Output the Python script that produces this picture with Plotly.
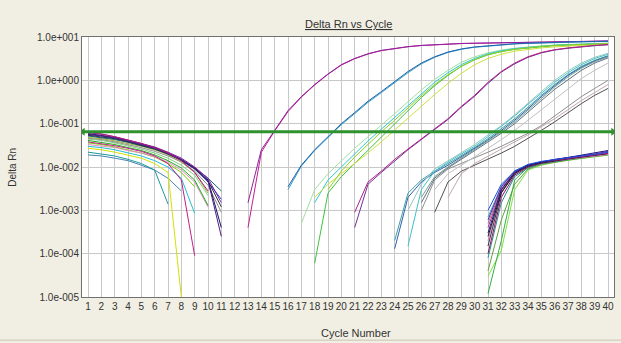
import plotly.graph_objects as go

# ---------------- data ----------------
cycle_ticks = list(range(1, 41))
y_tickvals = [1e-5, 1e-4, 1e-3, 1e-2, 1e-1, 1e0, 1e1]
y_ticktext = ["1.0e-005", "1.0e-004", "1.0e-003", "1.0e-002", "1.0e-001", "1.0e+000", "1.0e+001"]
threshold = 0.065

# baseline (non-amplifying) wells, start at cycle 1
base_purple = [0.062, 0.057, 0.050, 0.042, 0.035, 0.029, 0.022, 0.016, 0.010, 0.0055, 0.0015]
base_navy = [0.059, 0.054, 0.048, 0.041, 0.034, 0.028, 0.021, 0.015, 0.0095, 0.005, 0.0004]
base_blue = [0.056, 0.052, 0.046, 0.039, 0.033, 0.027, 0.020, 0.014, 0.009, 0.0045, 0.0018]
base_magenta = [0.063, 0.058, 0.050, 0.042, 0.035, 0.028, 0.021, 0.014, 0.0075, 0.0028]
base_darkteal = [0.052, 0.048, 0.043, 0.037, 0.031, 0.026, 0.020, 0.0145, 0.0095, 0.0055, 0.0028]
base_grey = [0.046, 0.043, 0.038, 0.033, 0.028, 0.023, 0.018, 0.013, 0.008, 0.0038, 0.0009]
base_green = [0.041, 0.037, 0.033, 0.028, 0.024, 0.019, 0.014, 0.0095, 0.005, 0.0013]
base_lime = [0.036, 0.033, 0.029, 0.025, 0.021, 0.017, 0.012, 0.0075, 0.0035]
base_cyan = [0.030, 0.028, 0.025, 0.021, 0.018, 0.014, 0.010, 0.0055, 0.00085]
base_teal = [0.022, 0.020, 0.018, 0.015, 0.012, 0.0085, 0.0014]
base_steel = [0.019, 0.018, 0.016, 0.014, 0.011, 0.0085, 0.0055, 0.0028]
base_yellow = [0.027, 0.025, 0.022, 0.019, 0.016, 0.012, 0.0075, 0.00001]
base_magenta2 = [0.038, 0.035, 0.031, 0.027, 0.023, 0.018, 0.012, 0.005, 0.00009]
base_olive = [0.048, 0.045, 0.040, 0.035, 0.030, 0.025, 0.019, 0.013, 0.0075, 0.0025]
base_pink = [0.033, 0.031, 0.028, 0.024, 0.021, 0.017, 0.013, 0.0085, 0.0045, 0.0012]
base_darkpurple = [0.057, 0.053, 0.047, 0.040, 0.034, 0.028, 0.021, 0.015, 0.0095, 0.0048, 0.00025]
base_black = [0.054, 0.050, 0.045, 0.038, 0.032, 0.026, 0.020, 0.0145, 0.009, 0.0048, 0.0012]
base_lightgreen = [0.044, 0.041, 0.036, 0.031, 0.026, 0.021, 0.016, 0.011, 0.0065, 0.0022]

# earliest amplification (start cycle 13)
early_a = [0.0015, 0.025, 0.07, 0.2, 0.42, 0.8, 1.4, 2.3, 3.2, 4.1, 4.9, 5.5, 6.0, 6.4,
           6.7, 6.9, 7.1, 7.2, 7.3, 7.4, 7.5, 7.6, 7.7, 7.8, 7.9, 8.0, 8.0, 8.1]
early_b = [0.0004, 0.022, 0.068, 0.19, 0.41, 0.78, 1.38, 2.25, 3.15, 4.05, 4.85, 5.45, 5.95, 6.35,
           6.65, 6.85, 7.05, 7.15, 7.25, 7.35, 7.45, 7.55, 7.65, 7.75, 7.85, 7.95, 8.0, 8.05]

# second group (start cycle 16)
mid_blue = [0.0035, 0.011, 0.025, 0.05, 0.1, 0.18, 0.33, 0.55, 0.95, 1.6, 2.5, 3.5, 4.5, 5.3,
            5.9, 6.3, 6.7, 7.0, 7.2, 7.4, 7.6, 7.7, 7.8, 7.9, 8.0]
mid_teal = [0.003, 0.0105, 0.024, 0.048, 0.095, 0.17, 0.31, 0.52, 0.9, 1.5, 2.4, 3.4, 4.4, 5.2,
            5.8, 6.2, 6.6, 6.9, 7.1, 7.3, 7.5, 7.6, 7.7, 7.8, 7.9]

# third group
third_green = [6e-5, 0.0025, 0.006, 0.012, 0.025, 0.05, 0.1, 0.2, 0.4, 0.75, 1.3, 2.1, 3.0, 3.9,
               4.6, 5.2, 5.6, 6.0, 6.3, 6.5, 6.7, 6.9, 7.0]                     # from 18
third_lightgreen = [0.0005, 0.003, 0.007, 0.014, 0.027, 0.05, 0.09, 0.17, 0.32, 0.6, 1.05, 1.7,
                    2.6, 3.5, 4.3, 5.0, 5.5, 5.9, 6.2, 6.5, 6.7, 6.9, 7.0, 7.1]   # from 17
third_cyan = [0.0015, 0.005, 0.01, 0.02, 0.04, 0.075, 0.14, 0.27, 0.5, 0.9, 1.5, 2.3, 3.2, 4.1,
              4.8, 5.4, 5.8, 6.2, 6.5, 6.7, 6.9, 7.0, 7.2]                        # from 18
third_yellow = [0.002, 0.004, 0.007, 0.012, 0.021, 0.038, 0.07, 0.13, 0.25, 0.47, 0.85, 1.45,
                2.3, 3.2, 4.0, 4.7, 5.2, 5.6, 5.9, 6.2, 6.4, 6.6, 6.8]            # from 18
third_yellowgreen = [0.003, 0.008, 0.017, 0.034, 0.065, 0.12, 0.23, 0.44, 0.8, 1.35, 2.1, 3.0,
                     3.9, 4.6, 5.2, 5.7, 6.1, 6.4, 6.6, 6.8, 7.0, 7.1]            # from 19

# fourth group (start cycle 21)
fourth_magenta = [0.0009, 0.0045, 0.008, 0.015, 0.026, 0.045, 0.075, 0.13, 0.25, 0.45, 0.9,
                  1.6, 2.5, 3.5, 4.4, 5.1, 5.6, 6.1, 6.4, 6.7]
fourth_purple = [0.0004, 0.004, 0.0075, 0.014, 0.025, 0.043, 0.072, 0.125, 0.24, 0.43, 0.85,
                 1.55, 2.4, 3.4, 4.3, 5.0, 5.5, 6.0, 6.3, 6.6]

# late bundle
late_teal = [0.0002, 0.0025, 0.005, 0.008, 0.012, 0.018, 0.028, 0.045, 0.075, 0.13, 0.24,
             0.45, 0.8, 1.35, 2.1, 2.9, 3.7]                                     # from 24
late_blue = [0.00013, 0.002, 0.0045, 0.0075, 0.011, 0.017, 0.026, 0.042, 0.07, 0.12, 0.22,
             0.42, 0.75, 1.3, 2.0, 2.8, 3.6]                                     # from 24
late_cyan = [0.00015, 0.003, 0.008, 0.013, 0.02, 0.03, 0.05, 0.085, 0.15, 0.28, 0.5, 0.9,
             1.5, 2.3, 3.2, 4.0]                                                 # from 25
late_lightteal = [0.001, 0.004, 0.009, 0.014, 0.021, 0.033, 0.055, 0.09, 0.16, 0.3, 0.55, 1.0,
                  1.65, 2.5, 3.4, 4.2]                                           # from 25
late_greygreen = [0.002, 0.006, 0.01, 0.016, 0.025, 0.04, 0.065, 0.11, 0.2, 0.38, 0.7, 1.2,
                  1.9, 2.7, 3.5]                                                 # from 26
late_slate = [0.0015, 0.0055, 0.0095, 0.015, 0.023, 0.037, 0.06, 0.1, 0.18, 0.34, 0.62, 1.05,
              1.7, 2.5, 3.3]                                                     # from 26

# slowest wells
slow_grey = [0.001, 0.005, 0.009, 0.012, 0.016, 0.022, 0.03, 0.042, 0.06, 0.09, 0.15, 0.25,
             0.42, 0.65, 1.0]                                                    # from 26
slow_darkgrey = [0.0009, 0.0045, 0.008, 0.011, 0.015, 0.021, 0.03, 0.045, 0.07, 0.11, 0.18,
                 0.29, 0.45, 0.65]                                               # from 27
slow_lightgrey = [0.003, 0.007, 0.011, 0.017, 0.027, 0.043, 0.07, 0.12, 0.21, 0.37, 0.65,
                  1.1, 1.7, 2.5]                                                 # from 27
slow_rose = [0.002, 0.007, 0.012, 0.018, 0.026, 0.038, 0.055, 0.085, 0.13, 0.21, 0.34, 0.52,
             0.8]                                                                # from 28

# cluster rising at cycle 31
tail_magenta = [4e-4, 3e-3, 7.5e-3, 0.011, 0.013, 0.0145, 0.016, 0.0175, 0.019, 0.021]
tail_blue = [1e-3, 4e-3, 8e-3, 0.0115, 0.0135, 0.015, 0.0165, 0.018, 0.0195, 0.022]
tail_green = [1.2e-5, 2e-4, 5e-3, 0.010, 0.0125, 0.014, 0.0155, 0.017, 0.019, 0.021]
tail_dark = [1.5e-4, 2.5e-3, 7e-3, 0.0105, 0.0125, 0.014, 0.0155, 0.0175, 0.0195, 0.0215]
tail_purple = [6e-4, 3.5e-3, 8e-3, 0.011, 0.013, 0.015, 0.0165, 0.018, 0.020, 0.023]
tail_teal = [8e-5, 1.5e-3, 6e-3, 0.0095, 0.012, 0.0135, 0.015, 0.0165, 0.018, 0.020]
tail_navy = [3e-4, 3e-3, 7.5e-3, 0.011, 0.013, 0.0148, 0.0165, 0.0185, 0.021, 0.024]
tail_olive = [4e-5, 6e-4, 4e-3, 0.009, 0.0115, 0.013, 0.0145, 0.016, 0.0175, 0.019]
tail_pink = [2e-4, 2.8e-3, 7e-3, 0.0105, 0.0125, 0.014, 0.0152, 0.0165, 0.018, 0.0195]
tail_grey = [5e-4, 3.2e-3, 7.5e-3, 0.0108, 0.0128, 0.0145, 0.016, 0.0175, 0.019, 0.0205]
tail_darkmagenta = [1e-4, 2e-3, 6.5e-3, 0.010, 0.0122, 0.0138, 0.0153, 0.0168, 0.0185, 0.0205]
tail_cyan = [7e-4, 3.6e-3, 8.2e-3, 0.0112, 0.0132, 0.0148, 0.0162, 0.0178, 0.0195, 0.0215]
tail_black = [2.5e-4, 2.6e-3, 7.2e-3, 0.0106, 0.0126, 0.0142, 0.0158, 0.0172, 0.0188, 0.0205]
tail_lime = [3e-5, 1.2e-4, 3e-3, 0.0085, 0.011, 0.0128, 0.0143, 0.0158, 0.0173, 0.0188]

# table: (first cycle, values, colour)
wells = [
    (1, base_lime, "#7CD000"), (1, base_steel, "#4682B4"), (1, base_teal, "#1A9A9A"),
    (1, base_cyan, "#20C0D0"), (1, base_yellow, "#D8E000"), (1, base_pink, "#E090C0"),
    (1, base_green, "#20B020"), (1, base_lightgreen, "#80D080"), (1, base_magenta2, "#C0208A"),
    (1, base_grey, "#909090"), (1, base_olive, "#A0B040"), (1, base_darkteal, "#106870"),
    (1, base_blue, "#2040D0"), (1, base_black, "#303040"), (1, base_navy, "#101070"),
    (1, base_darkpurple, "#502080"), (1, base_purple, "#8020A0"), (1, base_magenta, "#B01880"),
    (13, early_b, "#C02090"), (13, early_a, "#9020A0"),
    (16, mid_teal, "#30A0C0"), (16, mid_blue, "#2060B0"),
    (17, third_lightgreen, "#A0E0A0"), (18, third_green, "#40C040"), (18, third_cyan, "#30C8D0"),
    (18, third_yellow, "#D0E040"), (19, third_yellowgreen, "#90D020"),
    (21, fourth_purple, "#7030A0"), (21, fourth_magenta, "#B02080"),
    (24, late_teal, "#40A0A0"), (24, late_blue, "#3060B0"), (25, late_cyan, "#40C0C8"),
    (25, late_lightteal, "#90C8C0"), (26, late_greygreen, "#70A090"), (26, late_slate, "#607080"),
    (26, slow_grey, "#909090"), (27, slow_darkgrey, "#505050"), (27, slow_lightgrey, "#C0C0C0"),
    (28, slow_rose, "#C0A8B0"),
    (31, tail_lime, "#80E040"), (31, tail_olive, "#60A040"), (31, tail_green, "#30B040"),
    (31, tail_teal, "#209090"), (31, tail_pink, "#E080B0"), (31, tail_grey, "#808090"),
    (31, tail_cyan, "#30B0C0"), (31, tail_darkmagenta, "#901060"), (31, tail_dark, "#303050"),
    (31, tail_black, "#202020"), (31, tail_magenta, "#C02090"), (31, tail_purple, "#7020A0"),
    (31, tail_navy, "#1A1A80"), (31, tail_blue, "#2050E0"),
]

# ---------------- figure ----------------
fig = go.Figure()
for start, vals, col in wells:
    fig.add_trace(go.Scatter(
        x=list(range(start, start + len(vals))), y=vals, mode="lines",
        line=dict(color=col, width=1), hoverinfo="skip", showlegend=False))

# threshold line with arrow ends
fig.add_trace(go.Scatter(
    x=[0.62, 40.38], y=[threshold, threshold], mode="lines+markers",
    line=dict(color="#2E922E", width=3),
    marker=dict(symbol=["triangle-left", "triangle-right"], size=7, color="#2E922E"),
    hoverinfo="skip", showlegend=False))

bg = "#F1EFE3"
font_family = "Liberation Sans, Arial, sans-serif"
fig.update_layout(
    width=621, height=343,
    margin=dict(l=82, r=7, t=37, b=46, autoexpand=False),
    paper_bgcolor=bg, plot_bgcolor="#FFFFFF",
    font=dict(family=font_family, size=10, color="#333333"),
    xaxis=dict(range=[0.55, 40.45], tickmode="array", tickvals=cycle_ticks,
               ticktext=[str(c) for c in cycle_ticks], tickangle=0, automargin=False,
               showgrid=True, gridcolor="#C8C8C8",
               gridwidth=1, zeroline=False, showline=True, linecolor="#707070", linewidth=1,
               mirror=True, ticks="", tickfont=dict(size=10, color="#333333")),
    yaxis=dict(type="log", range=[-5, 1], tickmode="array", tickvals=y_tickvals,
               ticktext=y_ticktext, automargin=False, showgrid=True, gridcolor="#C8C8C8", gridwidth=1,
               zeroline=False, showline=True, linecolor="#707070", linewidth=1, mirror=True,
               ticks="", tickfont=dict(size=10, color="#333333")),
    annotations=[
        dict(text="<u>Delta Rn vs Cycle</u>", xref="paper", yref="paper", x=0.5, y=1.05,
             xanchor="center", yanchor="middle", showarrow=False,
             font=dict(size=11, color="#333333")),
        dict(text="Delta Rn", xref="paper", yref="paper", x=-0.132, y=0.5, textangle=-90,
             xanchor="center", yanchor="middle", showarrow=False,
             font=dict(size=10, color="#333333")),
        dict(text="Cycle Number", xref="paper", yref="paper", x=0.515, y=-0.137,
             xanchor="center", yanchor="middle", showarrow=False,
             font=dict(size=11, color="#333333")),
    ],
    shapes=[dict(type="line", xref="paper", yref="paper", x0=-0.16, x1=1.02,
                 y0=-0.166, y1=-0.166, line=dict(color="#C8C4B4", width=1))],
)

fig.write_html(
    "out.html",
    config={"displayModeBar": False, "staticPlot": True},
    post_script=("document.body.style.margin='0';document.body.style.padding='0';"
                 "document.body.style.background='" + bg + "';"
                 "document.documentElement.style.background='" + bg + "';"
                 "document.body.style.overflow='hidden';"),
)
